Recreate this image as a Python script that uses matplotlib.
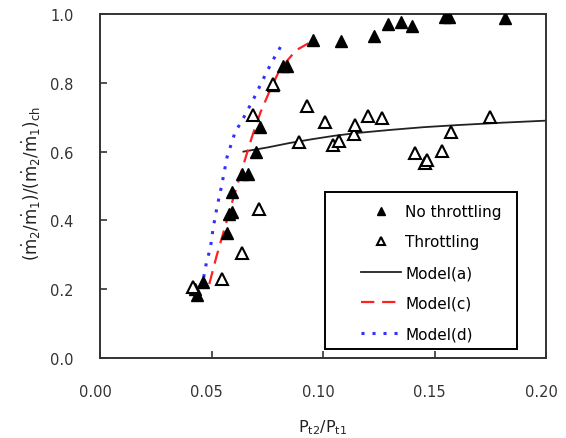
import matplotlib
matplotlib.use("Agg")
import matplotlib.pyplot as plt
import matplotlib.transforms as mtrans
from matplotlib.patches import Rectangle

plt.rcParams['font.family'] = ['DejaVu Sans']
plt.rcParams['mathtext.fontset'] = 'dejavusans'
plt.rcParams['mathtext.default'] = 'regular'

# Measured flow ratios, no throttling
no_thr_x = [0.0426, 0.0434, 0.0463, 0.0568, 0.0580, 0.0590, 0.0590, 0.0638, 0.0665,
            0.0700, 0.0717, 0.0775, 0.0819, 0.0840, 0.0956, 0.1080, 0.1230,
            0.1290, 0.1350, 0.1400, 0.1547, 0.1567, 0.1815]
no_thr_y = [0.200, 0.183, 0.222, 0.362, 0.418, 0.424, 0.483, 0.535, 0.535,
            0.600, 0.671, 0.795, 0.850, 0.850, 0.925, 0.921, 0.937,
            0.971, 0.976, 0.964, 0.990, 0.990, 0.987]

# Measured flow ratios, throttling
thr_x = [0.0419, 0.0546, 0.0635, 0.0715, 0.0688, 0.0775, 0.0927, 0.0894, 0.1009,
         0.1046, 0.1073, 0.1139, 0.1143, 0.1203, 0.1263, 0.1413, 0.1457,
         0.1465, 0.1532, 0.1574, 0.1749]
thr_y = [0.205, 0.230, 0.305, 0.433, 0.707, 0.797, 0.733, 0.627, 0.685,
         0.619, 0.632, 0.651, 0.677, 0.703, 0.698, 0.596, 0.567,
         0.576, 0.603, 0.658, 0.700]

# Model curves
model_a_x = [0.0643, 0.075, 0.085, 0.095, 0.105, 0.115, 0.130, 0.145, 0.160, 0.180, 0.200]
model_a_y = [0.600, 0.612, 0.625, 0.636, 0.646, 0.654, 0.663, 0.671, 0.677, 0.684, 0.690]

model_c_x = [0.0490, 0.0523, 0.0560, 0.0600, 0.0640, 0.0680, 0.0720, 0.0760,
             0.0800, 0.0840, 0.0880, 0.0935]
model_c_y = [0.215, 0.297, 0.380, 0.470, 0.555, 0.640, 0.715, 0.775,
             0.830, 0.865, 0.895, 0.915]

model_d_x = [0.0465, 0.0478, 0.0495, 0.0508, 0.0525, 0.0545, 0.0570, 0.0605,
             0.0645, 0.0690, 0.0735, 0.0770, 0.0810]
model_d_y = [0.235, 0.280, 0.320, 0.380, 0.440, 0.500, 0.585, 0.655,
             0.700, 0.755, 0.815, 0.860, 0.905]

x_ticks = [0.00, 0.05, 0.10, 0.15, 0.20]
x_tick_labels = ['0.00', '0.05', '0.10', '0.15', '0.20']
y_ticks = [0.0, 0.2, 0.4, 0.6, 0.8, 1.0]
y_tick_labels = ['0.0', '0.2', '0.4', '0.6', '0.8', '1.0']

fig = plt.figure(figsize=(5.66, 4.39), dpi=100)
ax = fig.add_axes([0.1767, 0.1822, 0.788, 0.7836])

ax.plot(model_a_x, model_a_y, color='#222222', lw=1.3, label='Model(a)', zorder=2)
ax.plot(model_c_x, model_c_y, color='#ff2020', lw=1.6, dashes=(6, 3.5), label='Model(c)', zorder=2)
ax.plot(model_d_x, model_d_y, color='#3030ff', lw=2.2, dashes=(1.0, 2.6), label='Model(d)', zorder=2)

ax.plot(no_thr_x, no_thr_y, linestyle='none', marker='^', ms=8.5,
        mfc='black', mec='black', label='No throttling', zorder=3)
ax.plot(thr_x, thr_y, linestyle='none', marker='^', ms=8.5,
        mfc='white', mec='black', mew=1.5, label='Throttling', zorder=3)

ax.set_xlim(0, 0.20)
ax.set_ylim(0, 1.0)
ax.set_xticks(x_ticks)
ax.set_xticklabels(x_tick_labels)
ax.set_yticks(y_ticks)
ax.set_yticklabels(y_tick_labels)
ax.tick_params(direction='in', length=5, width=1.2, labelsize=10.5, pad=19,
               top=False, right=False, colors='#333333')
for s in ax.spines.values():
    s.set_linewidth(1.4)
    s.set_color('#333333')

# nudge the x tick labels slightly left
shift = mtrans.ScaledTranslation(-5 / 100, 0, fig.dpi_scale_trans)
for lab in ax.get_xticklabels():
    lab.set_transform(lab.get_transform() + shift)

ax.set_xlabel(r'$P_{t2}/P_{t1}$', fontsize=11.5, color='#222222')
ax.set_ylabel(r'$(\dot{m}_2/\dot{m}_1)/(\dot{m}_2/\dot{m}_1)_{ch}$', fontsize=12,
              color='#222222')
ax.xaxis.set_label_coords(0.5, -0.172)
ax.yaxis.set_label_coords(-0.128, 0.509)

# legend frame
ax.add_patch(Rectangle((0.504, 0.026), 0.431, 0.457, transform=ax.transAxes,
                       facecolor='white', edgecolor='black', lw=1.4, zorder=4))

handles, labels = ax.get_legend_handles_labels()
order = [3, 4, 0, 1, 2]
leg = ax.legend([handles[i] for i in order], [labels[i] for i in order],
                loc='upper left', bbox_to_anchor=(0.585, 0.448),
                fontsize=11, markerscale=0.62, handlelength=2.6,
                handletextpad=0.3, labelspacing=1.02, borderpad=0,
                borderaxespad=0, frameon=False)
leg.set_zorder(5)

fig.savefig('out.png', dpi=100)
